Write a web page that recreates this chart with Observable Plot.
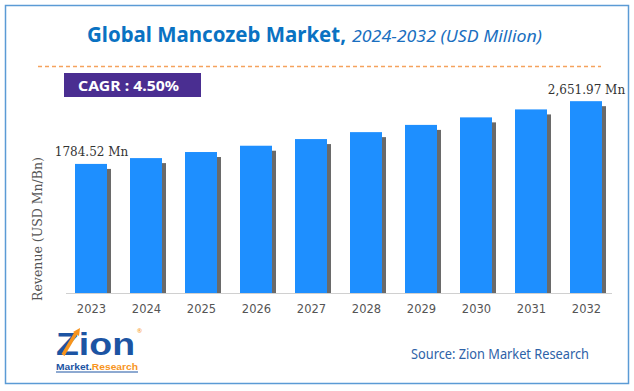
<!DOCTYPE html>
<html>
<head>
<meta charset="utf-8">
<script src="https://cdn.jsdelivr.net/npm/d3@7"></script>
<script src="https://cdn.jsdelivr.net/npm/@observablehq/plot@0.6"></script>
<style>
  html, body { margin: 0; padding: 0; background: #fff; }
  #wrap { position: relative; width: 634px; height: 391px; overflow: hidden; }
  #wrap svg { position: absolute; left: 0; top: 0; }
</style>
</head>
<body>
<div id="wrap"></div>
<script>
// ---- data ----
const years = ["2023", "2024", "2025", "2026", "2027", "2028", "2029", "2030", "2031", "2032"];
const revenue = [1784.52, 1865, 1949, 2036, 2128, 2224, 2324, 2428, 2538, 2651.97];
const labelYears = ["2023", "2032"];
const labelTexts = ["1784.52 Mn", "2,651.97 Mn"];
const titleMain = "Global Mancozeb Market,";
const titleSub = "2024-2032 (USD Million)";
const cagrText = "CAGR : 4.50%";
const yLabel = "Revenue (USD Mn/Bn)";
const sourceText = "Source: Zion Market Research";

const data = years.map((year, i) => ({ year, value: revenue[i] }));
const labels = labelYears.map((year, i) => ({ year, value: revenue[years.indexOf(year)], label: labelTexts[i] }));

const W = 634, H = 391;
const chart = Plot.plot({
  width: W, height: H,
  marginTop: 76, marginBottom: 98, marginLeft: 66, marginRight: 22,
  style: { fontFamily: "'DejaVu Sans', sans-serif", fontSize: "11.5px", color: "#555", background: "transparent", overflow: "visible" },
  x: { domain: years, paddingInner: 0.417, paddingOuter: 0.12, label: null, tickSize: 0, tickPadding: 11 },
  y: { domain: [0, 3000], axis: null },
  marks: [
    Plot.barY(data, { x: "year", y: "value", fill: "#6a6a6a", dx: 4, dy: 5, insetBottom: 5, ariaLabel: "shadow" }),
    Plot.barY(data, { x: "year", y: "value", fill: "#1e8fff" }),
    Plot.ruleY([0], { stroke: "#d0d0d0", strokeWidth: 1.2 }),
    Plot.text(labels, { x: "year", y: "value", text: "label", dy: -12, fill: "#333", fontSize: 12, fontFamily: "'DejaVu Serif', serif" })
  ]
});
const wrap = document.getElementById("wrap");
wrap.appendChild(chart);

// blur for shadow
const svgSel = d3.select(chart);
const defs = svgSel.insert("defs", ":first-child");
defs.append("filter").attr("id", "shblur").attr("x", "-50%").attr("y", "-10%").attr("width", "200%").attr("height", "120%")
  .append("feGaussianBlur").attr("stdDeviation", 2.5);
svgSel.select('g[aria-label="shadow"]').attr("filter", "url(#shblur)").attr("opacity", 0.55);

// ---- decorations overlay ----
const ov = d3.select(wrap).append("svg").attr("width", W).attr("height", H)
  .style("font-family", "'Noto Sans', sans-serif").style("pointer-events", "none");

// frame
ov.append("rect").attr("x", 5.5).attr("y", 5.5).attr("width", 623).attr("height", 378)
  .attr("fill", "none").attr("stroke", "#5b9bd5").attr("stroke-width", 1.5);

// title
ov.append("text").attr("x", 87).attr("y", 42).attr("font-size", 21).attr("font-weight", "bold")
  .attr("fill", "#0a72c2").attr("textLength", 259).attr("lengthAdjust", "spacingAndGlyphs").text(titleMain);
ov.append("text").attr("x", 352).attr("y", 42).attr("font-size", 17).attr("font-style", "italic")
  .attr("fill", "#1a6fc0").attr("textLength", 190).attr("lengthAdjust", "spacingAndGlyphs").text(titleSub);

// dashed line
ov.append("line").attr("x1", 38).attr("x2", 601).attr("y1", 66.5).attr("y2", 66.5)
  .attr("stroke", "#f5a25d").attr("stroke-width", 1.3).attr("stroke-dasharray", "4,3");

// CAGR box
ov.append("rect").attr("x", 64).attr("y", 73).attr("width", 137).attr("height", 24).attr("fill", "#4a2e91");
ov.append("text").attr("x", 78).attr("y", 91).attr("font-size", 15).attr("font-weight", "bold")
  .attr("fill", "#fff").attr("textLength", 101).attr("lengthAdjust", "spacingAndGlyphs").text(cagrText);

// y label
ov.append("text").attr("transform", "translate(42,229) rotate(-90)").attr("text-anchor", "middle")
  .attr("font-family", "'DejaVu Serif', serif").attr("font-size", 12.5).attr("fill", "#555").text(yLabel);

// source
ov.append("text").attr("x", 411).attr("y", 359).attr("font-size", 14).attr("fill", "#2e62a8")
  .attr("textLength", 178).attr("lengthAdjust", "spacingAndGlyphs").text(sourceText);

// logo
const logo = ov.append("g");
logo.append("text").attr("x", 56).attr("y", 355).attr("font-family", "'Liberation Sans', Arial").attr("font-size", 32)
  .attr("font-weight", "bold").attr("fill", "#1c54a3").attr("textLength", 79).attr("lengthAdjust", "spacingAndGlyphs").text("Zion");
logo.append("path").attr("d", "M63,355 L76,333").attr("stroke", "#f7941d").attr("stroke-width", 3.5).attr("fill", "none");
logo.append("path").attr("d", "M73,332 L80,328 L79,336 Z").attr("fill", "#f7941d");
logo.append("text").attr("x", 137).attr("y", 333).attr("font-size", 6).attr("fill", "#f7941d").text("®");
const lt = logo.append("text").attr("x", 56).attr("y", 370).attr("font-family", "'Liberation Sans', Arial")
  .attr("font-size", 9.5).attr("font-weight", "bold").attr("textLength", 82).attr("lengthAdjust", "spacingAndGlyphs");
lt.append("tspan").attr("fill", "#1c54a3").text("Market.");
lt.append("tspan").attr("fill", "#f7941d").text("Research");
logo.append("line").attr("x1", 56).attr("x2", 138).attr("y1", 372).attr("y2", 372).attr("stroke", "#1c54a3").attr("stroke-width", 1);
</script>
</body>
</html>
